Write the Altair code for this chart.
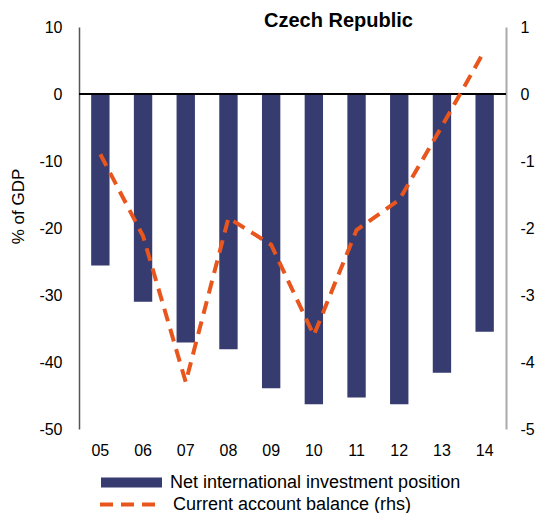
import altair as alt
import pandas as pd

years = ["05", "06", "07", "08", "09", "10", "11", "12", "13", "14"]
niip = [-25.6, -31.0, -37.1, -38.1, -43.9, -46.3, -45.3, -46.3, -41.6, -35.5]
cab = [-0.9, -2.12, -4.3, -1.85, -2.25, -3.6, -2.03, -1.58, -0.48, 0.65]
bar_name = "Net international investment position"
line_name = "Current account balance (rhs)"

df = pd.DataFrame({"year": years, "niip": niip, "cab": cab,
                   "s1": [bar_name] * len(years), "s2": [line_name] * len(years)})

FONT = "Liberation Sans"
NAVY = "#363B70"
ORANGE = "#E8561E"
HYPHEN = "'' + datum.value"

x = alt.X("year:O", sort=years, title=None,
          scale=alt.Scale(paddingInner=0.57, paddingOuter=0.285),
          axis=alt.Axis(domain=False, ticks=False, labelAngle=0, labelFontSize=16,
                        labelFont=FONT, labelColor="#000", labelPadding=13))

bars = alt.Chart(df).mark_bar(opacity=1).encode(
    x=x,
    y=alt.Y("niip:Q", title="% of GDP",
            scale=alt.Scale(domain=[-50, 10], nice=False, zero=False),
            axis=alt.Axis(values=[10, 0, -10, -20, -30, -40, -50], grid=False, ticks=False,
                          tickSize=0, labelPadding=17, labelFontSize=16, labelFont=FONT,
                          labelColor="#000", domainColor="#555", domainWidth=1.5,
                          labelExpr=HYPHEN,
                          titleFont=FONT, titleFontSize=17, titleFontWeight="normal",
                          titleColor="#000", titleX=-61, titleY=179, titleBaseline="middle")),
    color=alt.Color("s1:N", scale=alt.Scale(range=[NAVY]),
                    legend=alt.Legend(orient="none", legendX=22, legendY=425, title=None,
                                      symbolType="M-1,-0.16H1V0.16H-1Z", symbolSize=3721,
                                      symbolStrokeWidth=0, symbolOpacity=1,
                                      labelFontSize=18, labelFont=FONT, labelColor="#000",
                                      labelOffset=8, labelLimit=400, padding=0)),
)

zero = alt.Chart(df).mark_rule(color="#000", strokeWidth=1.5).encode(y=alt.datum(0))

left = alt.layer(bars, zero)

line = alt.Chart(df).mark_line(strokeWidth=4, strokeDash=[13, 8]).encode(
    x=alt.X("year:O", sort=years),
    y=alt.Y("cab:Q", title=None,
            scale=alt.Scale(domain=[-5, 1], nice=False, zero=False),
            axis=alt.Axis(orient="right", values=[1, 0, -1, -2, -3, -4, -5], grid=False,
                          ticks=False, tickSize=0, labelPadding=14, labelFontSize=16,
                          labelFont=FONT, labelColor="#000", domainColor="#aaa",
                          domainWidth=2, labelExpr=HYPHEN)),
    stroke=alt.Stroke("s2:N", scale=alt.Scale(range=[ORANGE]),
                      legend=alt.Legend(orient="none", legendX=19, legendY=446, title=None,
                                        symbolType="stroke", symbolSize=3481,
                                        symbolStrokeWidth=4, symbolDash=[13, 8],
                                        labelFontSize=18, labelFont=FONT, labelColor="#000",
                                        labelOffset=12, labelLimit=400, padding=0)),
)

chart = alt.layer(left, line).resolve_scale(y="independent", color="independent").properties(
    width=427, height=402,
    padding={"left": 71, "top": 19, "right": 31, "bottom": 84},
    autosize=alt.AutoSizeParams(type="none"),
    title=alt.TitleParams("Czech Republic", fontSize=20, fontWeight="bold", font=FONT,
                          color="#000", anchor="middle", dx=46, dy=16, offset=4),
).configure_view(stroke=None)

chart.save("out.html", embed_options={"renderer": "svg", "actions": False})
